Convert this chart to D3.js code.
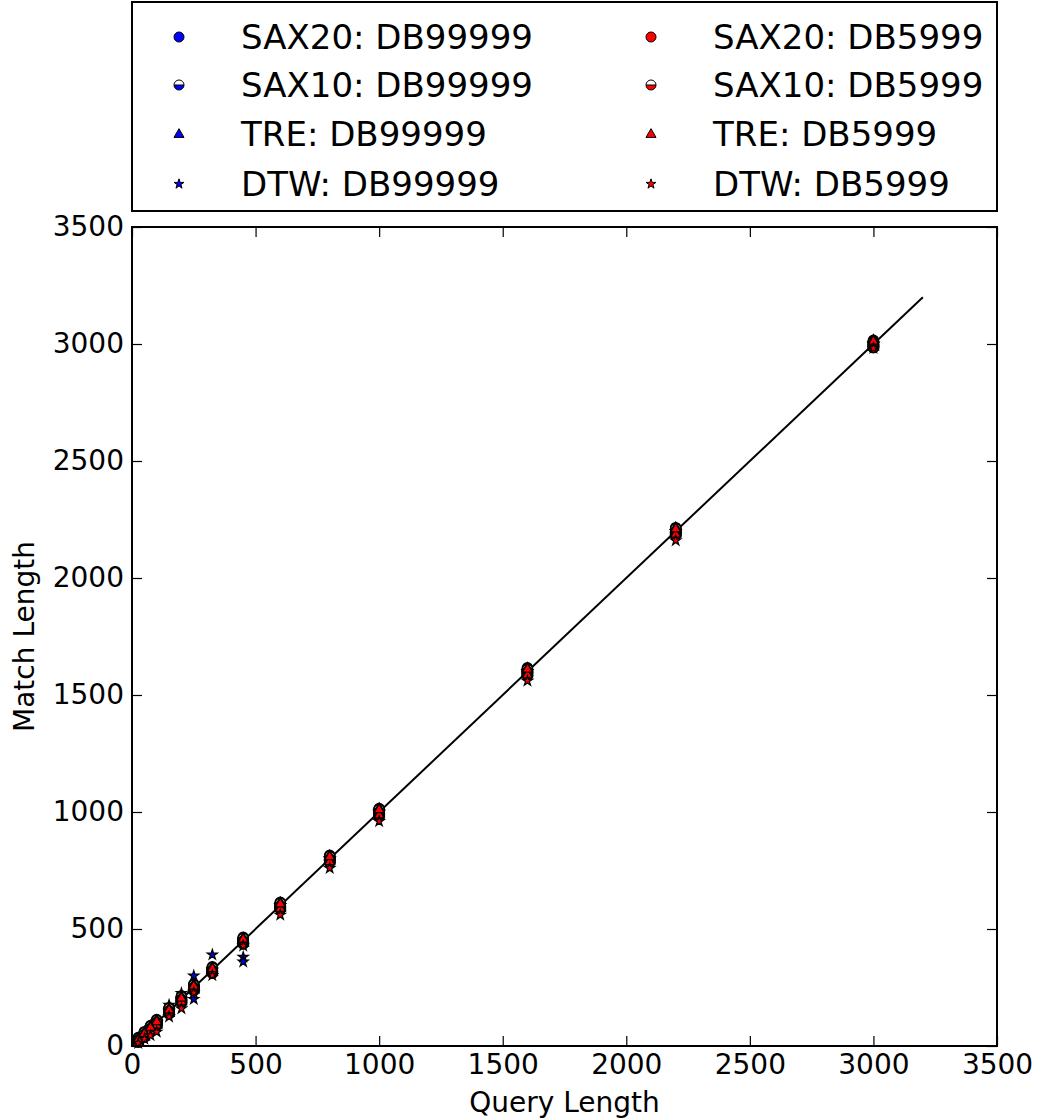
<!DOCTYPE html>
<html>
<head>
<meta charset="utf-8">
<script src="https://cdn.jsdelivr.net/npm/d3@7.9.0/dist/d3.min.js"></script>
<style>
  body { margin: 0; background: #fff; }
  svg { display: block; font-family: "DejaVu Sans", sans-serif; }
</style>
</head>
<body>
<svg id="chart" width="1041" height="1120"></svg>
<script>
// query lengths on the x axis
const queryLengths = [25, 50, 75, 100, 150, 200, 250, 325, 450, 600, 800, 1000, 1600, 2200, 3000];

// match lengths per method / database (one inner array per run)
const sax20Db99999 = [
  [28, 52, 78, 102, 152, 205, 252, 330, 452, 605, 805, 1005, 1605, 2205, 3008],
  [22, 46, 72, 96, 146, 196, 246, 320, 446, 596, 796, 996, 1596, 2196, 2996]
];
const sax10Db99999 = [
  [22, 48, 72, 98, 148, 195, 248, 320, 445, 595, 795, 995, 1595, 2195, 2995],
  [30, 55, 80, 106, 156, 206, 256, 330, 456, 606, 806, 1006, 1606, 2206, 3006]
];
const treDb99999 = [
  [26, 51, 76, 101, 151, 201, 251, 326, 451, 601, 801, 1001, 1601, 2201, 3002],
  [20, 45, 70, 95, 144, 194, 244, 318, 444, 594, 794, 994, 1594, 2194, 2994]
];
const dtwDb99999 = [
  [25, 50, 80, 100, 175, 225, 300, 390, 380, 600, 800, 1000, 1600, 2200, 3000],
  [25, 50, 75, 105, 150, 200, 200, 325, 360, 600, 800, 1000, 1600, 2200, 3000]
];
const sax20Db5999 = [
  [26, 50, 76, 100, 150, 200, 250, 325, 450, 600, 800, 1000, 1600, 2200, 3000],
  [20, 44, 70, 94, 144, 192, 244, 318, 442, 592, 792, 992, 1592, 2192, 2992],
  [32, 56, 82, 108, 158, 208, 258, 332, 458, 608, 808, 1010, 1610, 2210, 3012],
  [16, 38, 64, 88, 137, 186, 237, 311, 437, 586, 785, 986, 1585, 2186, 2986],
  [36, 61, 87, 113, 163, 214, 264, 338, 464, 614, 815, 1015, 1616, 2215, 3016]
];
const sax10Db5999 = [
  [23, 47, 72, 97, 146, 196, 246, 318, 442, 592, 792, 990, 1590, 2190, 2990],
  [29, 53, 79, 104, 154, 204, 255, 329, 454, 604, 804, 1004, 1604, 2204, 3005],
  [18, 42, 66, 90, 140, 188, 240, 312, 436, 586, 786, 985, 1585, 2185, 2984],
  [33, 58, 84, 110, 161, 211, 261, 335, 461, 611, 811, 1012, 1611, 2212, 3010],
  [25, 49, 75, 101, 150, 199, 250, 323, 448, 598, 798, 997, 1598, 2197, 2997]
];
const treDb5999 = [
  [25, 52, 76, 102, 152, 202, 254, 328, 455, 605, 808, 1008, 1608, 2208, 3010],
  [21, 46, 71, 96, 147, 198, 247, 321, 446, 596, 797, 997, 1597, 2197, 2997],
  [34, 58, 84, 110, 160, 212, 262, 336, 462, 614, 814, 1016, 1616, 2216, 3018],
  [17, 40, 65, 91, 141, 190, 241, 315, 440, 590, 790, 989, 1588, 2189, 2988],
  [29, 55, 80, 106, 156, 206, 258, 332, 458, 609, 811, 1012, 1612, 2212, 3014]
];
const dtwDb5999 = [
  [12, 30, 45, 60, 125, 160, 228, 302, 428, 560, 760, 960, 1560, 2160, 2982]
];

const refLine = [0, 3200];
const ticks = [0, 500, 1000, 1500, 2000, 2500, 3000, 3500];

const series = [
  { label: 'SAX20: DB99999', runs: sax20Db99999, color: 'blue', shape: 'circle' },
  { label: 'SAX10: DB99999', runs: sax10Db99999, color: 'blue', shape: 'half' },
  { label: 'TRE: DB99999', runs: treDb99999, color: 'blue', shape: 'triangle' },
  { label: 'DTW: DB99999', runs: dtwDb99999, color: 'blue', shape: 'star' },
  { label: 'SAX20: DB5999', runs: sax20Db5999, color: 'red', shape: 'circle' },
  { label: 'SAX10: DB5999', runs: sax10Db5999, color: 'red', shape: 'half' },
  { label: 'TRE: DB5999', runs: treDb5999, color: 'red', shape: 'triangle' },
  { label: 'DTW: DB5999', runs: dtwDb5999, color: 'red', shape: 'star' }
];

const svg = d3.select('#chart');
const plot = { left: 132, right: 997, top: 227, bottom: 1046 };

const x = d3.scaleLinear().domain([0, 3500]).range([plot.left, plot.right]);
const y = d3.scaleLinear().domain([0, 3500]).range([plot.bottom, plot.top]);

// draw a marker at (cx, cy); sw = edge width
function drawMarker(g, shape, color, cx, cy, sw) {
  const r = 5;
  if (shape === 'circle') {
    g.append('circle').attr('cx', cx).attr('cy', cy).attr('r', r)
      .attr('fill', color).attr('stroke', '#000').attr('stroke-width', sw);
  } else if (shape === 'half') {
    g.append('path')
      .attr('d', `M${cx - r},${cy} A${r},${r} 0 0 1 ${cx + r},${cy} Z`)
      .attr('fill', '#fff');
    g.append('path')
      .attr('d', `M${cx - r},${cy} A${r},${r} 0 0 0 ${cx + r},${cy} Z`)
      .attr('fill', color);
    g.append('circle').attr('cx', cx).attr('cy', cy).attr('r', r)
      .attr('fill', 'none').attr('stroke', '#000').attr('stroke-width', sw);
    g.append('line').attr('x1', cx - r).attr('x2', cx + r).attr('y1', cy).attr('y2', cy)
      .attr('stroke', '#000').attr('stroke-width', 1);
  } else {
    const type = shape === 'triangle' ? d3.symbolTriangle : d3.symbolStar;
    const size = shape === 'triangle' ? 44 : 30;
    g.append('path')
      .attr('d', d3.symbol().type(type).size(size)())
      .attr('transform', `translate(${cx},${cy + (shape === 'triangle' ? 0.5 : 0)})`)
      .attr('fill', color).attr('stroke', '#000').attr('stroke-width', Math.min(sw, 1.3));
  }
}

// reference line y = x
svg.append('line')
  .attr('x1', x(refLine[0])).attr('y1', y(refLine[0]))
  .attr('x2', x(refLine[1])).attr('y2', y(refLine[1]))
  .attr('stroke', '#000').attr('stroke-width', 2);

// data points
const pts = svg.append('g');
series.forEach((s) => {
  s.runs.forEach((run) => {
    run.forEach((v, i) => {
      drawMarker(pts, s.shape, s.color, x(queryLengths[i]), y(v), 1.6);
    });
  });
});

// axes, ticks pointing inward
const fmt = d3.format('d');
const styleAxis = (g) => {
  g.select('.domain').remove();
  g.selectAll('.tick line').attr('stroke', '#000').attr('stroke-width', 1.2);
  g.selectAll('.tick text').attr('font-size', 28).attr('fill', '#000')
    .attr('font-family', '"DejaVu Sans", sans-serif');
};

svg.append('g').attr('transform', `translate(0,${plot.bottom})`)
  .call(d3.axisBottom(x).tickValues(ticks).tickFormat(fmt).tickSizeInner(-10).tickSizeOuter(0).tickPadding(8))
  .call(styleAxis);
svg.append('g').attr('transform', `translate(${plot.left},0)`)
  .call(d3.axisLeft(y).tickValues(ticks).tickFormat(fmt).tickSizeInner(-10).tickSizeOuter(0).tickPadding(8))
  .call(styleAxis);
svg.append('g').attr('transform', `translate(0,${plot.top})`)
  .call(d3.axisTop(x).tickValues(ticks).tickFormat('').tickSizeInner(-10).tickSizeOuter(0))
  .call(styleAxis);
svg.append('g').attr('transform', `translate(${plot.right},0)`)
  .call(d3.axisRight(y).tickValues(ticks).tickFormat('').tickSizeInner(-10).tickSizeOuter(0))
  .call(styleAxis);

// frame
svg.append('rect')
  .attr('x', plot.left).attr('y', plot.top)
  .attr('width', plot.right - plot.left).attr('height', plot.bottom - plot.top)
  .attr('fill', 'none').attr('stroke', '#000').attr('stroke-width', 2);

// axis labels
svg.append('text')
  .attr('x', (plot.left + plot.right) / 2).attr('y', 1112)
  .attr('text-anchor', 'middle').attr('font-size', 28)
  .text('Query Length');
svg.append('text')
  .attr('transform', `translate(34,${(plot.top + plot.bottom) / 2}) rotate(-90)`)
  .attr('text-anchor', 'middle').attr('font-size', 28)
  .text('Match Length');

// legend
const legend = svg.append('g');
legend.append('rect')
  .attr('x', 132).attr('y', 2).attr('width', 865).attr('height', 209)
  .attr('fill', '#fff').attr('stroke', '#000').attr('stroke-width', 2);

const rowY = [37, 85, 134, 184];
const colX = [179, 651];
series.forEach((s, i) => {
  const col = Math.floor(i / 4);
  const row = i % 4;
  drawMarker(legend, s.shape, s.color, colX[col], rowY[row], 1);
  legend.append('text')
    .attr('x', colX[col] + 62).attr('y', rowY[row] + 12)
    .attr('font-size', 34)
    .text(s.label);
});
</script>
</body>
</html>
